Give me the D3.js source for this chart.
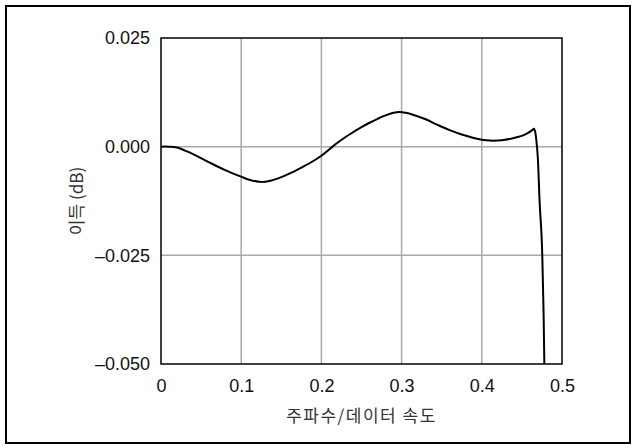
<!DOCTYPE html>
<html>
<head>
<meta charset="utf-8">
<script src="https://cdn.jsdelivr.net/npm/d3@7"></script>
<style>
  html, body { margin: 0; padding: 0; background: #fff; }
  svg { display: block; }
</style>
</head>
<body>
<div id="chart"></div>
<script>
// normalised frequency (f / data rate) and gain in dB
const freq = [0, 0.01, 0.02, 0.03, 0.04, 0.06, 0.08, 0.1, 0.11, 0.125, 0.135, 0.15, 0.16, 0.175, 0.19,
  0.2, 0.21, 0.22, 0.235, 0.25, 0.26, 0.27, 0.28, 0.29, 0.297, 0.305, 0.315, 0.33, 0.345, 0.36,
  0.375, 0.39, 0.4, 0.41, 0.425, 0.44, 0.455, 0.465, 0.4665, 0.468, 0.47, 0.472, 0.4754, 0.477, 0.478];
const gain = [0, 0, -0.0002, -0.0009, -0.0017, -0.0036, -0.0054, -0.0069, -0.0076, -0.0081, -0.0079, -0.0070, -0.0062, -0.0048, -0.0033,
  -0.0021, -0.0006, 0.0009, 0.0028, 0.0045, 0.0055, 0.0064, 0.0072, 0.0078, 0.0080, 0.0078, 0.0073, 0.0063, 0.0050, 0.0038,
  0.0028, 0.0020, 0.0016, 0.0014, 0.0015, 0.0020, 0.0029, 0.0041, 0.0035, 0.0015, -0.003, -0.0124, -0.025, -0.038, -0.05];

const xTicks = [0, 0.1, 0.2, 0.3, 0.4, 0.5];
const xTickLabels = ["0", "0.1", "0.2", "0.3", "0.4", "0.5"];
const yTicks = [0.025, 0, -0.025, -0.05];
const yTickLabels = ["0.025", "0.000", "\u20130.025", "\u20130.050"];

const xTitle = "주파수/데이터 속도";
const yTitle = "이득 (dB)";

const W = 635, H = 448;
const m = { left: 161, right: 562, top: 38, bottom: 364 };
const peakFreq = 0.465; // where the smooth passband ends and the roll-off starts

const svg = d3.select("#chart").append("svg")
  .attr("width", W).attr("height", H)
  .style("font-family", "'Liberation Sans', Arial, Helvetica, sans-serif");

// outer frame
svg.append("rect")
  .attr("x", 6).attr("y", 6)
  .attr("width", 624).attr("height", 437)
  .attr("fill", "none").attr("stroke", "#000").attr("stroke-width", 2);

const x = d3.scaleLinear().domain([0, 0.5]).range([m.left, m.right]);
const y = d3.scaleLinear().domain([-0.05, 0.025]).range([m.bottom, m.top]);

// grid
svg.append("g").selectAll("line")
  .data(xTicks.slice(1, -1))
  .join("line")
  .attr("x1", d => x(d)).attr("x2", d => x(d))
  .attr("y1", m.top).attr("y2", m.bottom)
  .attr("stroke", "#a8a8a8").attr("stroke-width", 1.5);

svg.append("g").selectAll("line")
  .data(yTicks.slice(1, -1))
  .join("line")
  .attr("x1", m.left).attr("x2", m.right)
  .attr("y1", d => y(d)).attr("y2", d => y(d))
  .attr("stroke", "#a8a8a8").attr("stroke-width", 1.5);

// curve, clipped to the plot box
svg.append("clipPath").attr("id", "plot-clip")
  .append("rect")
  .attr("x", m.left).attr("y", m.top)
  .attr("width", m.right - m.left).attr("height", m.bottom - m.top);

const pts = freq.map((f, i) => [f, gain[i]]);
const passband = pts.filter(d => d[0] <= peakFreq);
const rolloff = pts.filter(d => d[0] >= peakFreq);

const smooth = d3.line()
  .x(d => x(d[0])).y(d => y(d[1]))
  .curve(d3.curveCatmullRom.alpha(0.5));
const steep = d3.line()
  .x(d => x(d[0])).y(d => y(d[1]))
  .curve(d3.curveMonotoneX);

const curve = svg.append("g").attr("clip-path", "url(#plot-clip)");
[[passband, smooth], [rolloff, steep]].forEach(([data, gen]) => {
  curve.append("path")
    .datum(data)
    .attr("d", gen)
    .attr("fill", "none")
    .attr("stroke", "#000")
    .attr("stroke-width", 2)
    .attr("stroke-linejoin", "round")
    .attr("stroke-linecap", "round");
});

// plot frame
svg.append("rect")
  .attr("x", m.left).attr("y", m.top)
  .attr("width", m.right - m.left).attr("height", m.bottom - m.top)
  .attr("fill", "none").attr("stroke", "#000").attr("stroke-width", 1.5);

// axes labels (no tick marks in the original)
const xAxis = d3.axisBottom(x).tickValues(xTicks)
  .tickFormat((d, i) => xTickLabels[i]).tickSize(0).tickPadding(15);
svg.append("g")
  .attr("transform", `translate(0,${m.bottom})`)
  .call(xAxis)
  .call(g => g.select(".domain").remove())
  .call(g => g.selectAll("text").attr("font-size", 18).attr("fill", "#111")
    .attr("font-family", "'Liberation Sans', Arial, sans-serif"));

const yAxis = d3.axisLeft(y).tickValues(yTicks)
  .tickFormat((d, i) => yTickLabels[i]).tickSize(0).tickPadding(11);
svg.append("g")
  .attr("transform", `translate(${m.left},0)`)
  .call(yAxis)
  .call(g => g.select(".domain").remove())
  .call(g => g.selectAll("text").attr("font-size", 18).attr("fill", "#111")
    .attr("font-family", "'Liberation Sans', Arial, sans-serif"));

svg.append("text")
  .attr("x", (m.left + m.right) / 2).attr("y", 422)
  .attr("text-anchor", "middle")
  .attr("font-size", 17)
  .attr("letter-spacing", 1.5)
  .attr("fill", "#333")
  .attr("font-family", "'Noto Sans CJK KR', sans-serif")
  .text(xTitle);

svg.append("text")
  .attr("transform", `translate(83,${(m.top + m.bottom) / 2}) rotate(-90)`)
  .attr("text-anchor", "middle")
  .attr("font-size", 17)
  .attr("fill", "#333")
  .attr("font-family", "'Noto Sans CJK KR', sans-serif")
  .text(yTitle);
</script>
</body>
</html>
